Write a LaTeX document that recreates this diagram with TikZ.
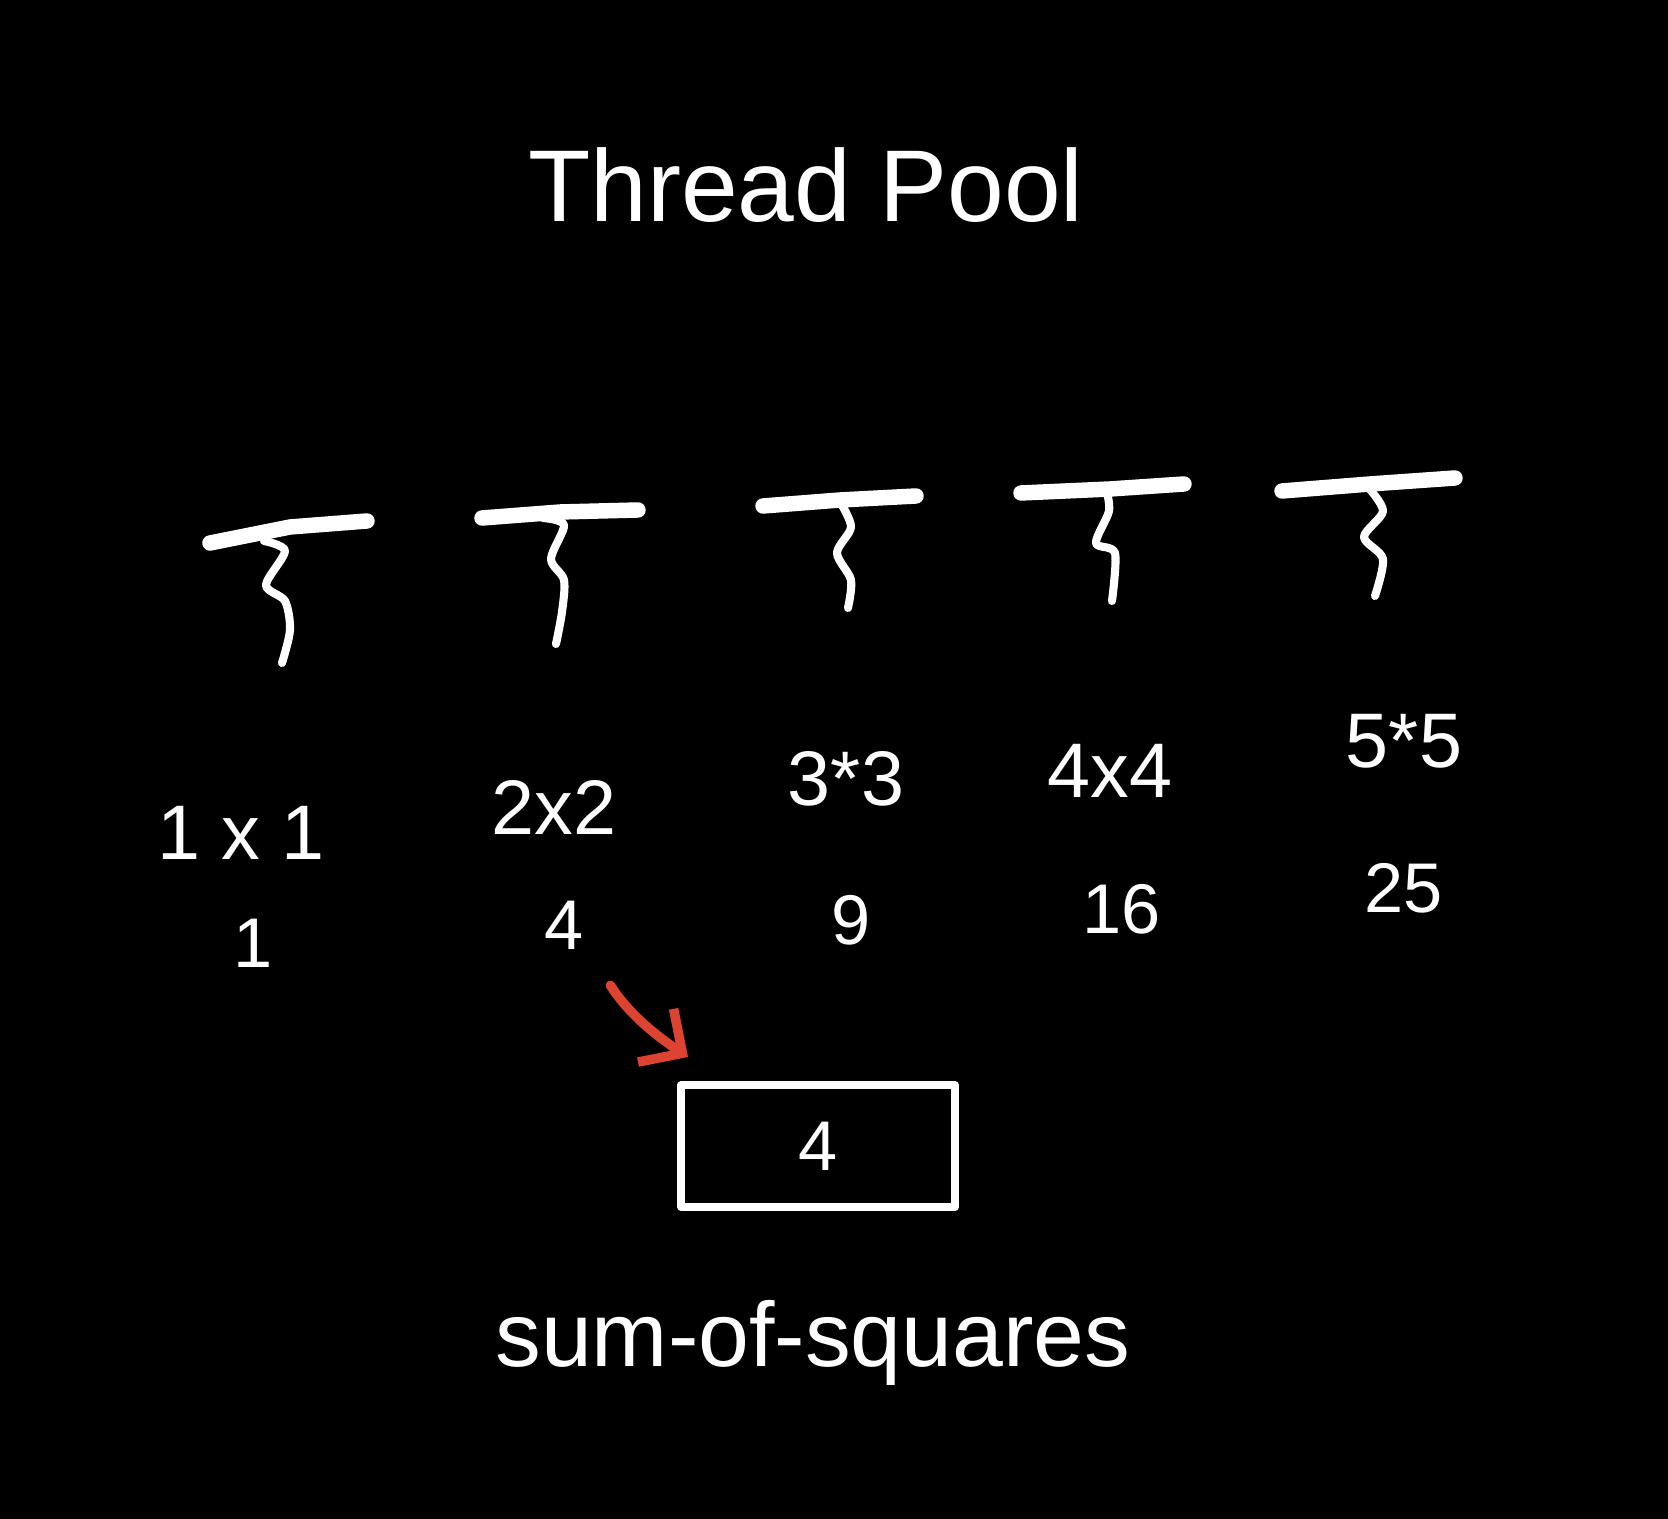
\documentclass[tikz,border=0pt]{standalone}
\usepackage{fontspec}
\setmainfont{Liberation Sans}
\usetikzlibrary{arrows.meta}
\definecolor{chalkred}{RGB}{221,67,49}
\begin{document}
\begin{tikzpicture}[x=0.01cm, y=-0.01cm, line join=round, line cap=round, >={Straight Barb[length=3.2mm,width=6.4mm]},
	white,
	chalk/.style={text=white, anchor=base, font=\fontsize{22}{26}\selectfont},
	result/.style={chalk, font=\fontsize{20}{24}\selectfont},
	bar/.style={line width=4.4pt},
	stem/.style={line width=2.3pt}]
	\fill[black] (0,0) rectangle (1668,1519);
	% title
	\node[chalk, font=\fontsize{29}{35}\selectfont] (title) at (806,222) {Thread Pool};
	% threads
	\draw[bar] (210,543) -- (290,527) -- (367,521);
	\draw[stem] plot[smooth] coordinates {(264,541) (285,551) (266,585) (285,601) (290,630) (282,663)};
	\draw[bar] (482,518) -- (560,512) -- (638,510);
	\draw[stem] plot[smooth] coordinates {(543,518) (564,525) (551,559) (564,580) (562,612) (556,644)};
	\draw[bar] (763,506) -- (840,500) -- (916,496);
	\draw[stem] plot[smooth] coordinates {(840,502) (851,527) (837,553) (851,580) (848,608)};
	\draw[bar] (1021,493) -- (1110,489) -- (1184,484);
	\draw[stem] plot[smooth] coordinates {(1106,489) (1109,511) (1096,543) (1115,553) (1112,601)};
	\draw[bar] (1282,491) -- (1370,484) -- (1455,478);
	\draw[stem] plot[smooth] coordinates {(1367,486) (1383,511) (1364,537) (1383,559) (1375,596)};
	% tasks
	\node[chalk] (q1) at (241,860) {1 x 1};
	\node[chalk] (q2) at (554,835) {2x2};
	\node[chalk] (q3) at (846,806) {3*3};
	\node[chalk] (q4) at (1110,798) {4x4};
	\node[chalk] (q5) at (1404,768) {5*5};
	\node[result] (r1) at (253,968) {1};
	\node[result] (r2) at (564,950) {4};
	\node[result] (r3) at (851,945) {9};
	\node[result] (r4) at (1122,934) {16};
	\node[result] (r5) at (1404,913) {25};
	% sum
	\node[draw, line width=2.2pt, minimum width=2.74cm, minimum height=1.22cm, text=white, font=\fontsize{20}{24}\selectfont] (box) at (818,1146) {4};
	\coordinate (tip) at (688,1057);
	\draw[->, chalkred, line width=2.7pt, shorten <=2.7mm] (r2.south east) to[bend right=12] (tip);
	\node[chalk, font=\fontsize{26}{30}\selectfont] (label) at (813,1367) {sum-of-squares};
\end{tikzpicture}
\end{document}
